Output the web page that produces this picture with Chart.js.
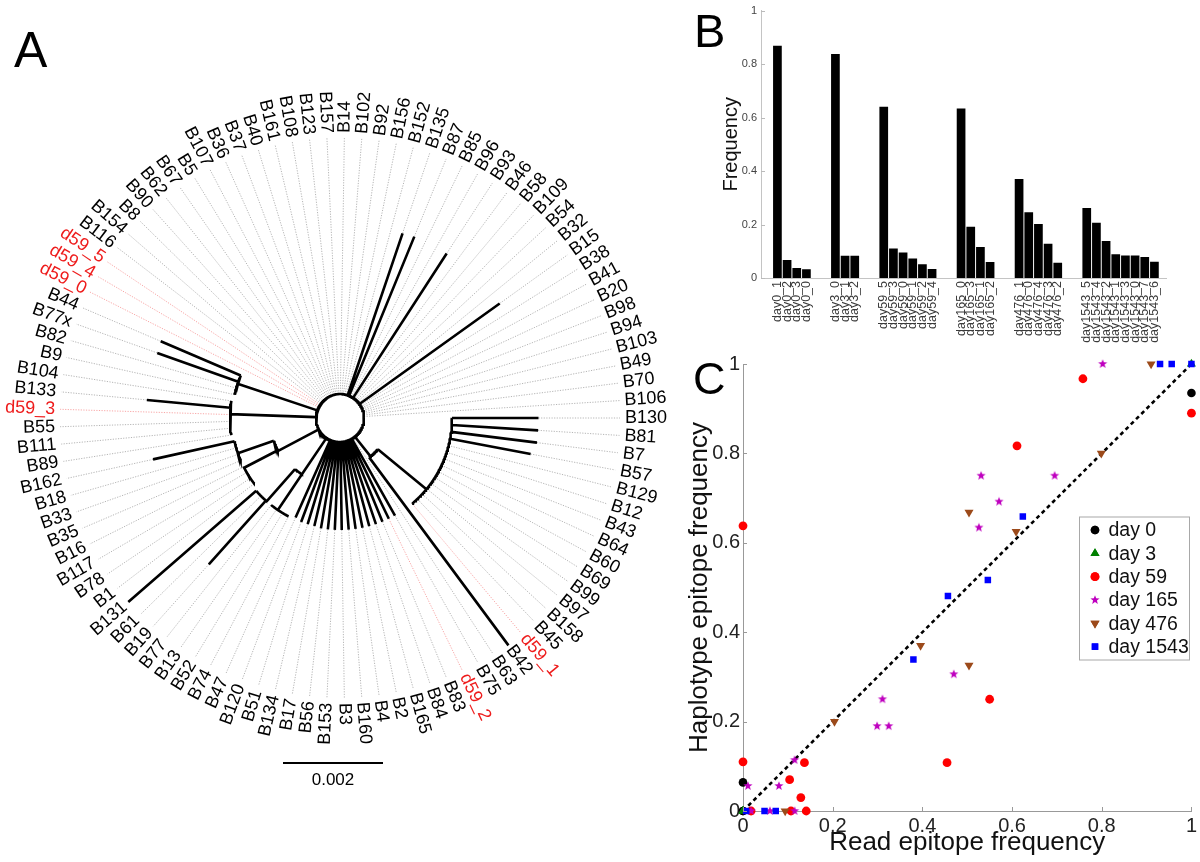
<!DOCTYPE html>
<html><head><meta charset="utf-8">
<script src="https://cdn.jsdelivr.net/npm/chart.js"></script>
<style>
html,body{margin:0;padding:0;background:#fff;width:1200px;height:862px;overflow:hidden}
canvas{position:absolute}
.plabel{position:absolute;font-family:"Liberation Sans",Arial,sans-serif;color:#000;line-height:1}
</style></head><body>
<canvas id="treeA" width="700" height="862" style="left:0;top:0"></canvas>
<canvas id="barB" width="500" height="352" style="left:700px;top:0"></canvas>
<canvas id="scatC" width="520" height="532" style="left:680px;top:330px"></canvas>
<div class="plabel" style="left:14px;top:25px;font-size:50px">A</div>
<div class="plabel" style="left:694px;top:7px;font-size:47px">B</div>
<div class="plabel" style="left:693px;top:356px;font-size:45px">C</div>
<script>
// ---------------- DATA ----------------
// Panel A: leaves in circular order (counter-clockwise from 3 o'clock)
const leafNames = ['B130','B106','B70','B49','B103','B94','B98','B20','B41','B38',
 'B15','B32','B54','B109','B58','B46','B93','B96','B85','B87',
 'B135','B152','B156','B92','B102','B14','B157','B123','B108','B161',
 'B40','B37','B36','B107','B5','B67','B62','B90','B8','B154',
 'B116','d59_5','d59_4','d59_0','B44','B77x','B82','B9','B104','B133',
 'd59_3','B55','B111','B89','B162','B18','B33','B35','B16','B117',
 'B78','B1','B131','B61','B19','B77','B13','B52','B74','B47',
 'B120','B51','B134','B17','B56','B153','B3','B160','B4','B2',
 'B165','B84','B83','d59_2','B75','B63','B42','d59_1','B45','B158',
 'B97','B99','B69','B60','B64','B43','B12','B129','B57','B7','B81'];
const highlightLeaves = ['d59_0','d59_1','d59_2','d59_3','d59_4','d59_5'];
// distances in units of 0.001 substitutions/site
const rootRadius = 0.48;
const rootArc = [0, 101];                 // leaf-position span of the root arc
const treeArcs = [                        // [fromPos, toPos, distance]
  [86, 89.92, 0.98], [87, 101, 2.24], [44, 47, 2.16], [48, 53, 2.2],
  [55.83, 58.36, 1.4], [54, 57, 2.16], [58, 61, 2.16], [64.14, 66.2, 1.36],
  [62, 64.14, 2.22], [65, 68, 2.22]
];
const treeStems = [                       // internal branches [pos, from, to]
  [86.55, 0.48, 0.98], [89.92, 0.98, 2.24], [45.3, 0.48, 2.16], [49.94, 0.48, 2.2],
  [58.36, 0.48, 1.4], [55.83, 1.4, 2.16], [58.2, 1.4, 2.16], [66.2, 0.48, 1.36],
  [64.14, 1.36, 2.22], [66.2, 1.36, 2.22]
];
const leafBranches = [                    // [leaf, from, to]; unlisted leaves sit on the root
  ['B130',2.24,3.97],['B81',2.24,3.97],['B7',2.24,3.97],['B57',2.24,3.88],
  ['B15',0.48,3.93],['B93',0.48,3.92],['B87',0.48,3.92],['B135',0.48,3.9],
  ['B44',2.16,3.9],['B77x',2.16,3.88],['B82',2.16,2.16],['B9',2.16,2.16],
  ['B104',2.2,2.2],['B133',2.2,3.88],['d59_3',2.2,2.2],['B55',2.2,2.2],['B111',2.2,2.2],['B89',2.2,2.2],
  ['B162',2.16,3.83],['B18',2.16,2.16],['B33',2.16,2.16],['B35',2.16,2.16],
  ['B16',2.16,2.16],['B117',2.16,2.16],['B78',2.16,2.16],['B1',2.16,2.16],
  ['B131',2.22,5.61],['B61',2.22,2.22],['B19',2.22,3.93],
  ['B77',2.22,2.22],['B13',2.22,2.22],['B52',2.22,2.22],['B74',2.22,2.22],
  ['B47',0.48,2.18],['B120',0.48,2.22],['B51',0.48,2.22],['B134',0.48,2.22],['B17',0.48,2.24],
  ['B56',0.48,2.24],['B153',0.48,2.24],['B3',0.48,2.24],['B160',0.48,2.24],['B4',0.48,2.24],
  ['B2',0.48,2.24],['B165',0.48,2.24],['B84',0.48,2.24],['B83',0.48,2.24],['d59_2',0.48,2.24],['B75',0.48,2.24],
  ['B42',0.98,5.66],
  ['d59_1',2.24,2.24],['B45',2.24,2.24],['B158',2.24,2.24],['B97',2.24,2.24],['B99',2.24,2.24],
  ['B69',2.24,2.24],['B60',2.24,2.24],['B64',2.24,2.24],['B43',2.24,2.24],['B12',2.24,2.24],['B129',2.24,2.24]
];
const scaleBarLength = 2;   // = 0.002

// Panel B
const groupNames = ['day0','day3','day59','day165','day476','day1543'];
const hapLabels = [
  ['day0_1','day0_2','day0_3','day0_0'],
  ['day3_0','day3_1','day3_2'],
  ['day59_5','day59_3','day59_0','day59_1','day59_2','day59_4'],
  ['day165_0','day165_3','day165_1','day165_2'],
  ['day476_1','day476_0','day476_4','day476_3','day476_2'],
  ['day1543_5','day1543_4','day1543_2','day1543_1','day1543_3','day1543_0','day1543_7','day1543_6']
];
const hapFreqs = [
  [0.869,0.067,0.037,0.033],
  [0.838,0.083,0.083],
  [0.640,0.110,0.095,0.073,0.051,0.034],
  [0.634,0.192,0.116,0.060],
  [0.370,0.246,0.202,0.128,0.057],
  [0.262,0.207,0.138,0.089,0.084,0.084,0.079,0.061]
];
const yTicksB = [0,0.2,0.4,0.6,0.8,1];

// Panel C: [read epitope frequency, haplotype epitope frequency]
const day0 = [[1,0.935],[0,0.064],[0,0],[0,0]];
const day3 = [[1,1],[0,0],[0,0]];
const day59 = [[0.758,0.967],[1,0.89],[0.611,0.817],[0,0.638],[0.55,0.25],[0.455,0.108],[0,0.11],
  [0.137,0.108],[0.104,0.07],[0.129,0.03],[0.018,0],[0.107,0],[0.141,0]];
const day165 = [[0.802,1],[0.531,0.75],[0.695,0.75],[0.571,0.692],[0.526,0.634],[0.47,0.306],[0.311,0.25],
  [0.299,0.19],[0.325,0.19],[0.115,0.114],[0.011,0.056],[0.08,0.056],[0.018,0],[0.06,0],[0.115,0]];
const day476 = [[0.91,1],[0.799,0.8],[0.504,0.668],[0.609,0.625],[0.396,0.37],[0.504,0.326],[0.204,0.2],[0.094,0]];
const day1543 = [[0.93,1],[0.956,1],[1,1],[0.624,0.659],[0.546,0.517],[0.457,0.481],[0.38,0.339],[0.007,0],[0.048,0],[0.073,0]];
const seriesNames = ['day 0','day 3','day 59','day 165','day 476','day 1543'];
const ticksC = [0,0.2,0.4,0.6,0.8,1];

// ---------------- COMMON ----------------
const FAMILY = '"Liberation Sans", Arial, Helvetica, sans-serif';
Chart.defaults.font.family = FAMILY;
Chart.defaults.color = '#000';
const base = {responsive:false, animation:false, events:[], devicePixelRatio:1};
const fmt = v => String(Number((+v).toFixed(2)));

const inwardTicks = {
  id:'inwardTicks',
  afterDatasetsDraw(chart, args, opts){
    const {ctx, chartArea:a, scales} = chart;
    ctx.save(); ctx.strokeStyle = opts.color || '#999'; ctx.lineWidth = 1; ctx.beginPath();
    (opts.axes||[]).forEach(id=>{
      const s = scales[id];
      s.ticks.forEach(t=>{
        const p = Math.round(s.getPixelForValue(t.value))+0.5;
        if (s.isHorizontal()){ ctx.moveTo(p, a.bottom); ctx.lineTo(p, a.bottom-opts.len); }
        else { ctx.moveTo(a.left, p); ctx.lineTo(a.left+opts.len, p); }
      });
    });
    ctx.stroke(); ctx.restore();
  }
};

// ---------------- PANEL A ----------------
const STEP = 360/leafNames.length;
const LABEL_R = 5.7, DOT_END = 5.6;
const idxOf = {}; leafNames.forEach((n,i)=>idxOf[n]=i);
function P(pos, r){ const a = pos*STEP*Math.PI/180; return {x:r*Math.cos(a), y:r*Math.sin(a)}; }
function arcPts(p0,p1,r){ const pts=[]; const n=Math.max(2,Math.ceil(Math.abs(p1-p0)*STEP/0.5));
  for(let k=0;k<=n;k++) pts.push(P(p0+(p1-p0)*k/n, r)); return pts; }
const GAP = {x:null,y:null};
const thick=[], dotG=[], dotR=[];
const seg=(arr,pts)=>{ arr.push(...pts, GAP); };
seg(thick, arcPts(rootArc[0], rootArc[1], rootRadius));
treeArcs.forEach(([a,b,r])=>seg(thick, arcPts(a,b,r)));
treeStems.forEach(([p,r0,r1])=>seg(thick,[P(p,r0),P(p,r1)]));
const tipOf = {};
leafBranches.forEach(([n,r0,r1])=>{ tipOf[n]=r1; if(r1>r0) seg(thick,[P(idxOf[n],r0),P(idxOf[n],r1)]); });
leafNames.forEach((n,i)=>{ const t = (n in tipOf) ? tipOf[n] : rootRadius;
  if (t < DOT_END) seg(highlightLeaves.includes(n)?dotR:dotG, [P(i,t),P(i,DOT_END)]); });
// scale bar (placed below the tree)
const sbLeft = -1.14, sbY = -6.9;
const scaleBar = [{x:sbLeft,y:sbY},{x:sbLeft+scaleBarLength,y:sbY}];

const treeLabels = {
  id:'treeLabels',
  afterDatasetsDraw(chart){
    const {ctx, scales:{x,y}} = chart;
    ctx.save();
    ctx.font = '18px '+FAMILY; ctx.textBaseline='middle';
    leafNames.forEach((name,i)=>{
      const deg = i*STEP, a = deg*Math.PI/180, p = P(i, LABEL_R);
      ctx.save(); ctx.translate(x.getPixelForValue(p.x), y.getPixelForValue(p.y));
      if (deg>90 && deg<270){ ctx.rotate(Math.PI - a); ctx.textAlign='right'; }
      else { ctx.rotate(-a); ctx.textAlign='left'; }
      ctx.fillStyle = highlightLeaves.includes(name) ? '#ee1c1c' : '#000';
      ctx.fillText(name, 0, 0);
      ctx.restore();
    });
    ctx.font = '17px '+FAMILY; ctx.textAlign='center'; ctx.fillStyle='#000';
    ctx.fillText('0.00'+scaleBarLength, x.getPixelForValue(sbLeft+scaleBarLength/2), y.getPixelForValue(sbY)+17);
    ctx.restore();
  }
};

new Chart(document.getElementById('treeA'), {
  type:'scatter',
  data:{datasets:[
    {data:thick, showLine:true, borderColor:'#000', borderWidth:2.6, pointRadius:0, spanGaps:false, borderCapStyle:'butt'},
    {data:scaleBar, showLine:true, borderColor:'#000', borderWidth:2, pointRadius:0},
    {data:dotR, showLine:true, borderColor:'rgba(240,70,70,0.6)', borderWidth:0.8, borderDash:[1.2,1.4], pointRadius:0, spanGaps:false},
    {data:dotG, showLine:true, borderColor:'rgba(70,70,70,0.5)', borderWidth:0.8, borderDash:[1.2,1.4], pointRadius:0, spanGaps:false}
  ]},
  options:{...base,
    layout:{padding:0},
    plugins:{legend:{display:false}, tooltip:{enabled:false}},
    scales:{
      x:{type:'linear', display:false, min:-340/50, max:360/50},
      y:{type:'linear', display:false, min:-(862-418)/50, max:418/50}
    }
  },
  plugins:[treeLabels]
});

// ---------------- PANEL B ----------------
const barPts=[]; const tickLabelAt={}; let slot=0;
hapLabels.forEach((g,gi)=>{ g.forEach((lab,k)=>{ barPts.push({x:slot,y:hapFreqs[gi][k]}); tickLabelAt[slot]=lab; slot++; }); slot+=2; });
new Chart(document.getElementById('barB'), {
  type:'bar',
  data:{datasets:[{data:barPts, backgroundColor:'#000', borderWidth:0, barPercentage:0.9, categoryPercentage:1}]},
  options:{...base,
    layout:{padding:{left:0, top:5, right:34, bottom:0}},
    plugins:{legend:{display:false}, tooltip:{enabled:false}, inwardTicks:{axes:['y'], len:4, color:'#bbb'}},
    scales:{
      x:{type:'linear', min:-1, max:slot-2.5,
        grid:{display:false, drawTicks:false}, border:{color:'#c4c4c4'},
        afterBuildTicks(s){ s.ticks = Object.keys(tickLabelAt).map(v=>({value:+v})); },
        afterFit(s){ s.height = 74; },
        ticks:{autoSkip:false, maxRotation:90, minRotation:90, padding:3, color:'#3a3a3a', font:{size:12.5},
          callback:(v)=>tickLabelAt[v]||''}},
      y:{min:0, max:1,
        afterBuildTicks(s){ s.ticks = yTicksB.map(v=>({value:v})); },
        ticks:{padding:4, color:'#444', font:{size:11}, callback:fmt},
        grid:{display:false, drawTicks:false}, border:{color:'#c4c4c4'},
        afterFit(s){ s.width = 61; },
        title:{display:true, text:'Frequency', font:{size:20}, padding:{top:19,bottom:0}, color:'#111'}}
    }
  },
  plugins:[inwardTicks]
});

// ---------------- PANEL C ----------------
function starImg(color, R){ const c=document.createElement('canvas'); const s=Math.ceil(R*2+2); c.width=c.height=s;
  const g=c.getContext('2d'); g.fillStyle=color; g.beginPath();
  for(let k=0;k<10;k++){ const rr=k%2?R*0.42:R; const a=-Math.PI/2+k*Math.PI/5; g.lineTo(s/2+rr*Math.cos(a), s/2+rr*Math.sin(a)); }
  g.closePath(); g.fill(); return c; }
const STAR = starImg('#bf00bf', 4.8);
const styles = [
  {pts:day0, color:'#000000', style:'circle', r:4.3, rot:0},
  {pts:day3, color:'#008000', style:'triangle', r:5.2, rot:0},
  {pts:day59, color:'#ff0000', style:'circle', r:4.4, rot:0},
  {pts:day165, color:'#bf00bf', style:STAR, r:5, rot:0},
  {pts:day476, color:'#9c4a1a', style:'triangle', r:5.2, rot:180},
  {pts:day1543, color:'#0000ff', style:'rect', r:4.6, rot:0}
];
const scDatasets = styles.map((s,i)=>({
  label:seriesNames[i], data:s.pts.map(([x,y])=>({x,y})),
  pointStyle:s.style, pointRadius:s.r, pointRotation:s.rot,
  backgroundColor:s.color, borderColor:s.color, pointBackgroundColor:s.color, pointBorderColor:s.color,
  pointBorderWidth:0, order:styles.length-i, clip:12
}));
scDatasets.push({label:'identity', data:[{x:0,y:0},{x:1,y:1}], showLine:true, borderColor:'#000',
  borderWidth:2.6, borderDash:[4,3.4], pointRadius:0, order:20});

const legendC = {
  id:'legendC',
  afterDraw(chart){
    const ctx = chart.ctx; ctx.save();
    const bx=399.5, by=187, bw=110, bh=143;
    ctx.strokeStyle='#a8a8a8'; ctx.lineWidth=1; ctx.strokeRect(bx,by,bw,bh);
    ctx.font='19.5px '+FAMILY; ctx.textBaseline='middle'; ctx.textAlign='left';
    styles.forEach((s,i)=>{
      const cy = 200 + i*23.33, cx = 415;
      ctx.fillStyle = s.color; ctx.strokeStyle = s.color;
      if (typeof s.style === 'object'){
        ctx.drawImage(s.style, cx - s.style.width/2, cy - s.style.height/2);
      } else if (Chart.helpers && Chart.helpers.drawPoint){
        ctx.beginPath();
        Chart.helpers.drawPoint(ctx, {pointStyle:s.style, radius:s.r, rotation:s.rot, borderWidth:0}, cx, cy);
        ctx.fill();
      }
      ctx.fillStyle='#111';
      ctx.fillText(seriesNames[i], 428.5, cy+1);
    });
    ctx.restore();
  }
};

new Chart(document.getElementById('scatC'), {
  type:'scatter',
  data:{datasets:scDatasets},
  options:{...base,
    layout:{padding:{left:0, top:34, right:8, bottom:0}},
    plugins:{legend:{display:false}, tooltip:{enabled:false}, inwardTicks:{axes:['x','y'], len:4, color:'#999'}},
    scales:{
      x:{type:'linear', min:0, max:1,
        afterBuildTicks(s){ s.ticks = ticksC.map(v=>({value:v})); },
        ticks:{padding:3, color:'#222', font:{size:20}, callback:fmt},
        grid:{display:false, drawTicks:false}, border:{color:'#999'},
        afterFit(s){ s.height = 51; },
        title:{display:true, text:'Read epitope frequency', font:{size:26}, padding:{top:0,bottom:4}, color:'#111'}},
      y:{type:'linear', min:0, max:1,
        afterBuildTicks(s){ s.ticks = ticksC.map(v=>({value:v})); },
        ticks:{padding:3, color:'#222', font:{size:20}, callback:fmt},
        grid:{display:false, drawTicks:false}, border:{color:'#999'},
        afterFit(s){ s.width = 63; },
        title:{display:true, text:'Haplotype epitope frequency', font:{size:26}, padding:{top:4,bottom:0}, color:'#111'}}
    }
  },
  plugins:[inwardTicks, legendC]
});
</script>
</body></html>
